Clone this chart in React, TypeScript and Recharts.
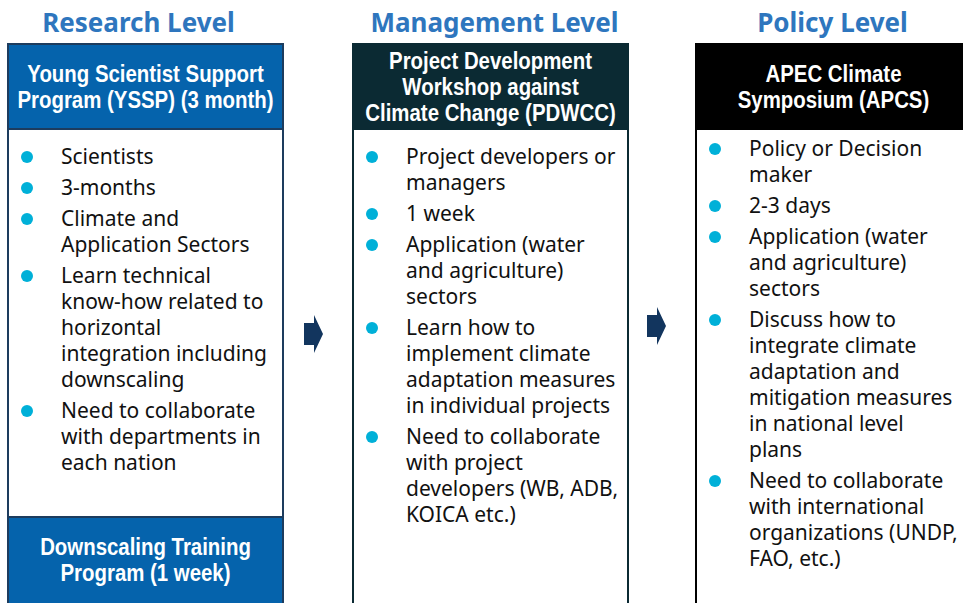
import React from 'react';
import { BarChart, Bar, XAxis, YAxis } from 'recharts';

// column headings (top axis categories)
const levels = ['Research Level', 'Management Level', 'Policy Level'];

// program title shown in the dark header of each column
const programTitles = [
  ['Young Scientist Support', 'Program (YSSP) (3 month)'],
  ['Project Development', 'Workshop against', 'Climate Change (PDWCC)'],
  ['APEC Climate', 'Symposium (APCS)'],
];

const researchBullets = [
  ['Scientists'],
  ['3-months'],
  ['Climate and', 'Application Sectors'],
  ['Learn technical', 'know-how related to', 'horizontal', 'integration including', 'downscaling'],
  ['Need to collaborate', 'with departments in', 'each nation'],
];

const managementBullets = [
  ['Project developers or', 'managers'],
  ['1 week'],
  ['Application (water', 'and agriculture)', 'sectors'],
  ['Learn how to', 'implement climate', 'adaptation measures', 'in individual projects'],
  ['Need to collaborate', 'with project', 'developers (WB, ADB,', 'KOICA etc.)'],
];

const policyBullets = [
  ['Policy or Decision', 'maker'],
  ['2-3 days'],
  ['Application (water', 'and agriculture)', 'sectors'],
  ['Discuss how to', 'integrate climate', 'adaptation and', 'mitigation measures', 'in national level', 'plans'],
  ['Need to collaborate', 'with international', 'organizations (UNDP,', 'FAO, etc.)'],
];

const footers = [['Downscaling Training', 'Program (1 week)'], [], []];

const data = levels.map((name, i) => ({
  name,
  span: 1,
  title: programTitles[i],
  bullets: [researchBullets, managementBullets, policyBullets][i],
  footer: footers[i],
}));

// look of each column
const panelStyles = [
  { head: '#0563ac', border: '#1d3c5e', bodyPad: 35, arrowY: 0, shift: 0, labelDx: -7 },
  { head: '#0b2a33', border: '#0b2a33', bodyPad: 35, arrowY: 290, shift: 0, labelDx: 4 },
  { head: '#000000', border: '#000000', bodyPad: 27, arrowY: 282, shift: -2, labelDx: -3 },
];

const HEAD_H = 85;
const FOOT_H = 86;
const LINE = 26;
const ITEM_GAP = 5;

function LevelTick(props: any) {
  const { x, y, payload, index } = props;
  return (
    <text
      x={x + panelStyles[index].labelDx}
      y={y}
      textAnchor="middle"
      fill="#2e76be"
      fontFamily="'Noto Sans', sans-serif"
      fontWeight={700}
      fontSize={26}
    >
      {payload.value}
    </text>
  );
}

function CondensedLines({ cx, cy, lines }: { cx: number; cy: number; lines: string[] }) {
  return (
    <g transform={`translate(${cx} 0) scale(0.85 1)`}>
      {lines.map((l, i) => (
        <text
          key={i}
          x={0}
          y={cy + (i - (lines.length - 1) / 2) * LINE + 8.5}
          textAnchor="middle"
          fill="#ffffff"
          fontFamily="'Liberation Sans', Arial, sans-serif"
          fontWeight={700}
          fontSize={24}
        >
          {l}
        </text>
      ))}
    </g>
  );
}

function Panel(props: any) {
  const { y, width, height, payload, index } = props;
  const st = panelStyles[index];
  const x = props.x + st.shift;
  const bottom = y + height;
  const cx = x + width / 2;

  let cursor = y + HEAD_H + st.bodyPad;
  const rows: React.ReactNode[] = [];
  payload.bullets.forEach((item: string[], bi: number) => {
    rows.push(<circle key={`d${bi}`} cx={x + 19} cy={cursor - 7} r={6} fill="#00b0d8" />);
    item.forEach((line, li) => {
      rows.push(
        <text
          key={`t${bi}-${li}`}
          x={x + 53}
          y={cursor + li * LINE}
          fill="#111111"
          fontFamily="'Noto Sans', sans-serif"
          fontSize={21}
        >
          {line}
        </text>
      );
    });
    cursor += item.length * LINE + ITEM_GAP;
  });

  const ay = y + st.arrowY;
  const ax = x - 49;

  return (
    <g>
      <rect x={x} y={y} width={width} height={height + 6} fill="#ffffff" stroke={st.border} strokeWidth={2} />
      <rect x={x} y={y} width={width} height={HEAD_H} fill={st.head} stroke={st.border} strokeWidth={2} />
      <CondensedLines cx={cx} cy={y + HEAD_H / 2} lines={payload.title} />
      {payload.footer.length > 0 && (
        <>
          <rect x={x} y={bottom - FOOT_H} width={width} height={FOOT_H + 6} fill={st.head} stroke={st.border} strokeWidth={2} />
          <CondensedLines cx={cx} cy={bottom - FOOT_H / 2} lines={payload.footer} />
        </>
      )}
      {rows}
      {index > 0 && (
        <path
          d={`M${ax},${ay - 11} L${ax + 10},${ay - 11} L${ax + 10},${ay - 19} L${ax + 19},${ay} L${ax + 10},${ay + 19} L${ax + 10},${ay + 11} L${ax},${ay + 11} Z`}
          fill="#12355e"
        />
      )}
    </g>
  );
}

export default function App() {
  return (
    <div style={{ position: 'fixed', left: 0, top: 0, width: 963, height: 603, overflow: 'hidden', background: '#fff' }}>
      <div style={{ position: 'absolute', left: -27, top: 0 }}>
        <BarChart width={1035} height={603} data={data} margin={{ top: 0, right: 0, bottom: 0, left: 0 }}>
          <XAxis
            dataKey="name"
            orientation="top"
            height={44}
            axisLine={false}
            tickLine={false}
            tickSize={0}
            tickMargin={12}
            interval={0}
            tick={<LevelTick />}
          />
          <YAxis hide domain={[0, 1]} />
          <Bar dataKey="span" barSize={275} isAnimationActive={false} shape={Panel} />
        </BarChart>
      </div>
    </div>
  );
}
